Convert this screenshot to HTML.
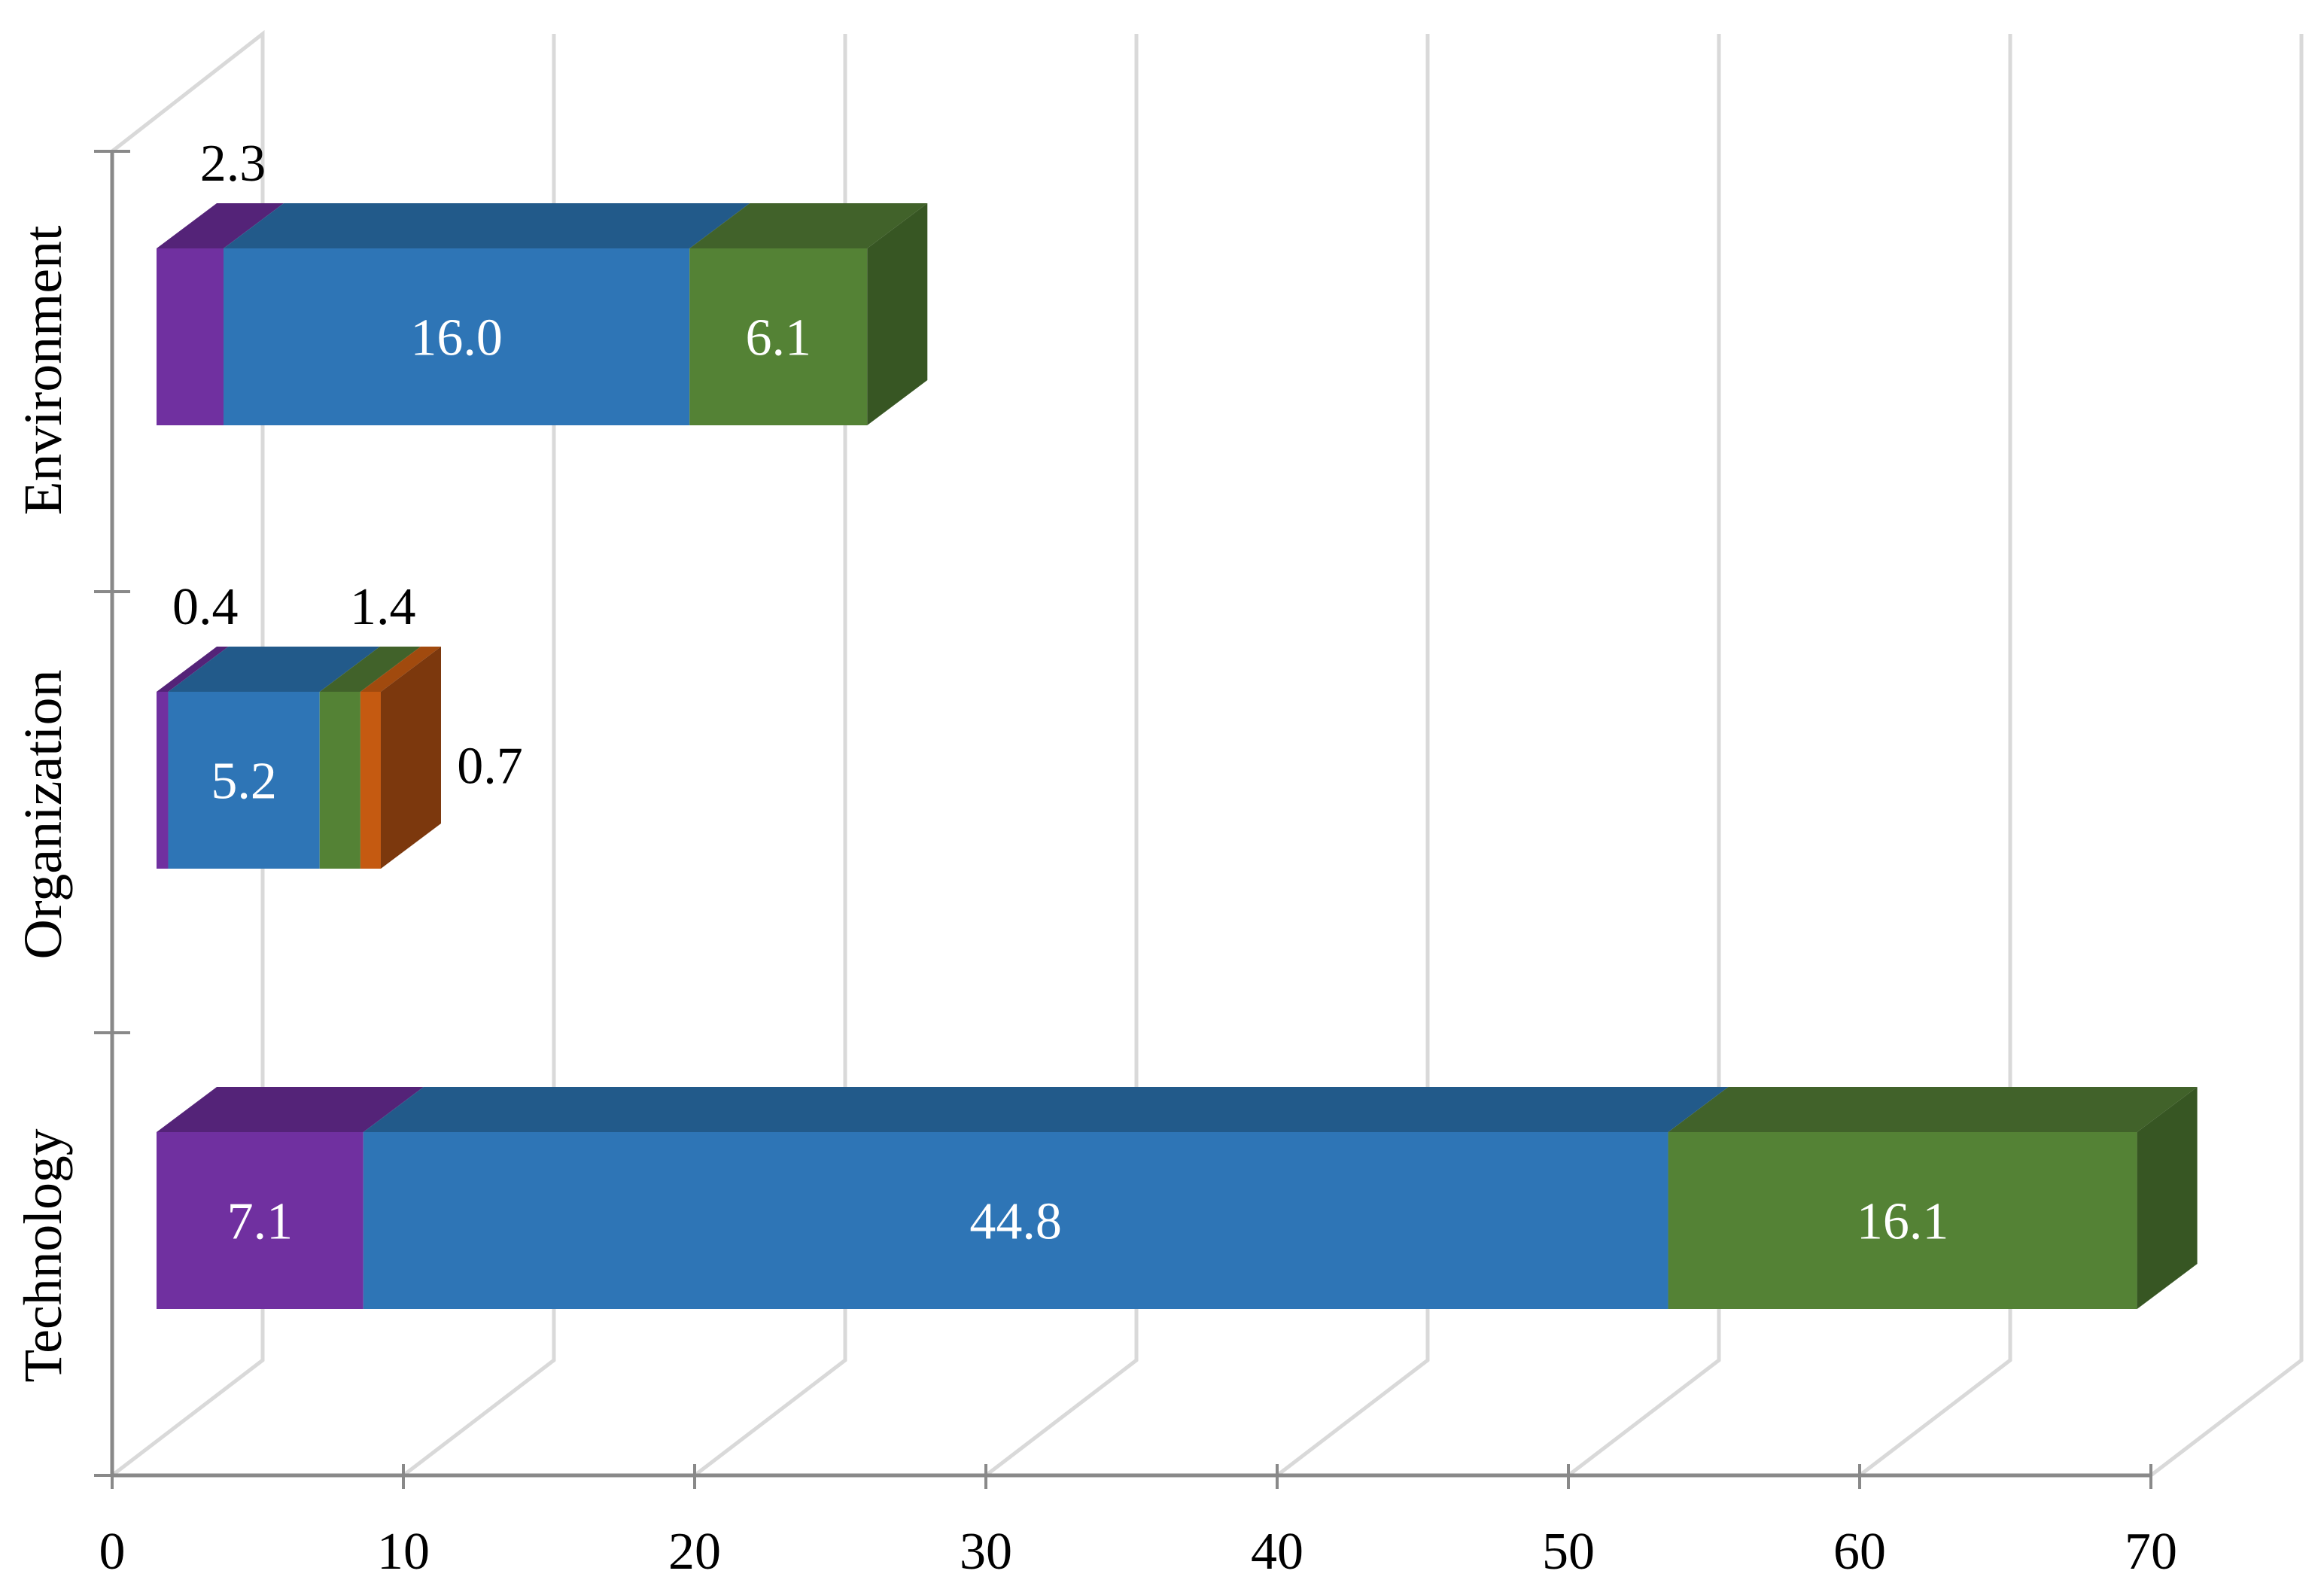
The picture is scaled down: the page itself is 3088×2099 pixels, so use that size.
<!DOCTYPE html>
<html><head><meta charset="utf-8"><style>
html,body{margin:0;padding:0;background:#fff;}
svg{display:block;}
text{font-family:"Liberation Serif",serif;}
</style></head><body>
<svg id="chart" width="3088" height="2099" viewBox="0 0 3088 2099" xmlns="http://www.w3.org/2000/svg">
<g id="walls"></g>
<g id="axes"></g>
<g id="bars"></g>
<g id="labels"></g>
</svg>
<script>
const categories = ["Environment", "Organization", "Technology"];
const seriesPurple = [2.3, 0.4, 7.1];
const seriesBlue = [16.0, 5.2, 44.8];
const seriesGreen = [6.1, 1.4, 16.1];
const seriesOrange = [0, 0.7, 0];
const xTicks = [0, 10, 20, 30, 40, 50, 60, 70];

const NS = "http://www.w3.org/2000/svg";
const AX0 = 149, UNIT = 38.7, BASE = 1960, AXTOP = 201;
const WDX = 200, WDY = -153, WALLTOP = 45;
const BX0 = 208, BDX = 80, BDY = -60, BH = 235;
function xAxis(v){ return AX0 + v*UNIT; }
function xBar(v){ return BX0 + v*UNIT; }
function catTop(i){ return [330, 919, 1504][i]; }
function mk(tag, attrs, parent){
  const e = document.createElementNS(NS, tag);
  for (const k in attrs) e.setAttribute(k, attrs[k]);
  parent.appendChild(e); return e;
}
const walls = document.getElementById('walls');
const axes = document.getElementById('axes');
const bars = document.getElementById('bars');
const labels = document.getElementById('labels');

xTicks.forEach(v => {
  const bx = xAxis(v) + WDX;
  const g = mk('path', {d:`M${xAxis(v)},${BASE} L${bx},${BASE+WDY} L${bx},${WALLTOP}`, fill:'none', stroke:'#d9d9d9', 'stroke-width':5}, walls);
  
  
});
const lw = mk('path', {d:`M${AX0},${AXTOP} L${AX0+WDX},${WALLTOP} L${AX0+WDX},${BASE+WDY}`, fill:'none', stroke:'#d9d9d9', 'stroke-width':5}, walls);



const xa = mk('line', {x1:AX0, y1:BASE, x2:xAxis(70), y2:BASE, stroke:'#898989', 'stroke-width':5}, axes);


const ya = mk('line', {x1:AX0, y1:AXTOP, x2:AX0, y2:BASE, stroke:'#898989', 'stroke-width':5}, axes);


xTicks.forEach(v => {
  mk('line', {x1:xAxis(v), y1:BASE-15, x2:xAxis(v), y2:BASE+18, stroke:'#898989', 'stroke-width':4}, axes);
  const t = mk('text', {x:xAxis(v), y:2084, 'font-size':70, 'text-anchor':'middle', fill:'#000'}, axes);
  t.textContent = v;
  
  
});
[201, 786, 1372, 1960].forEach(y => {
  mk('line', {x1:125, y1:y, x2:173, y2:y, stroke:'#898989', 'stroke-width':4}, axes);
});
const catCenters = [492, 1082, 1668];
const catLens = [385, 385, 337];
categories.forEach((c, i) => {
  const t = mk('text', {x:0, y:0, 'font-size':72, 'text-anchor':'middle', fill:'#000', textLength:catLens[i], lengthAdjust:'spacingAndGlyphs', transform:`translate(81,${catCenters[i]}) rotate(-90)`}, axes);
  t.textContent = c;
  
  
});

const series = [
  {name:'purple', vals:seriesPurple, front:'#7030a0', top:'#542378', side:'#4b1f6b'},
  {name:'blue', vals:seriesBlue, front:'#2e75b6', top:'#225a8a', side:'#1f4e79'},
  {name:'green', vals:seriesGreen, front:'#548235', top:'#41622a', side:'#375623'},
  {name:'orange', vals:seriesOrange, front:'#c55a11', top:'#a14a0e', side:'#7c380d'}
];
categories.forEach((c, i) => {
  let cum = 0;
  const y0 = catTop(i);
  const lastIdx = series.map(s => s.vals[i] > 0).lastIndexOf(true);
  series.forEach((s, si) => {
    const v = s.vals[i];
    if (v <= 0) return;
    const x1 = xBar(cum), x2 = xBar(cum + v);
    const top = mk('polygon', {points:`${x1},${y0} ${x1+BDX},${y0+BDY} ${x2+BDX},${y0+BDY} ${x2},${y0}`, fill:s.top}, bars);
    
    
    const fr = mk('rect', {x:x1, y:y0, width:x2-x1, height:BH, fill:s.front}, bars);
    
    
    if (si === lastIdx) {
      const sd = mk('polygon', {points:`${x2},${y0} ${x2+BDX},${y0+BDY} ${x2+BDX},${y0+BDY+BH} ${x2},${y0+BH}`, fill:s.side}, bars);
      
      
    }
    let lx, ly, col;
    if (v >= 3) { lx = (x1+x2)/2; ly = y0 + BH/2 + 24; col = '#fff'; }
    else if (si === lastIdx) { lx = x2 + BDX + 65; ly = y0 + BH/2 + 4; col = '#000'; }
    else { lx = (x1+x2)/2 + 57; ly = y0 + BDY - 30; col = '#000'; }
    const t = mk('text', {x:lx, y:ly, 'font-size':70, 'text-anchor':'middle', fill:col}, labels);
    t.textContent = v.toFixed(1);
    
    
    cum += v;
  });
});
</script>
</body></html>
